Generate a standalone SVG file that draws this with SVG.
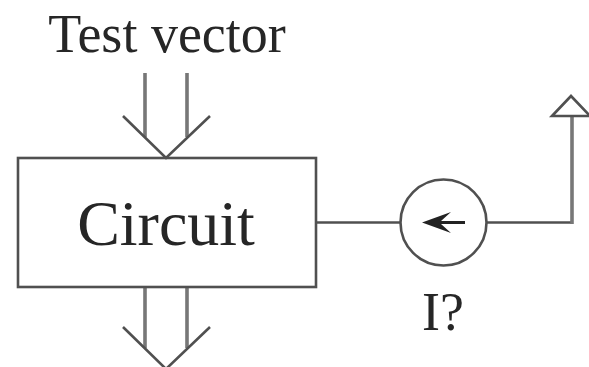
<svg xmlns="http://www.w3.org/2000/svg" width="589" height="367" viewBox="0 0 589 367">
<style>
.l{fill:none;stroke:#505050;stroke-width:2.6}
.v{fill:none;stroke:#777;stroke-width:3.6}
text{font-family:"Liberation Serif","Times New Roman",serif;fill:#262626}
</style>
<rect width="589" height="367" fill="#fff"/>
<g id="connectors">
<path class="v" d="M145 73V137M187 73V137"/>
<path class="l" d="M123 116L166 158L210 116"/>
<path class="v" d="M145 288V348M187 288V348"/>
<path class="l" d="M123 327L166 369L210 327"/>
<path class="l" d="M316 222.5H401"/>
<path class="l" d="M487 222.5H572"/>
<path class="v" d="M572 224V116"/>
<path class="l" d="M552 116L571 96L590 116Z"/>
</g>
<g id="circuit"><rect class="l" x="18" y="158" width="298" height="129"/>
<text x="166" y="245" font-size="64" text-anchor="middle">Circuit</text></g>
<g id="ammeter"><circle class="l" cx="443.5" cy="222.5" r="43"/>
<path d="M422 222.5L451 212L441 221H465V224H441L451 233Z" fill="#222"/></g>
<text id="test" x="167" y="52" font-size="54" text-anchor="middle">Test vector</text>
<text id="iq" x="443" y="330" font-size="54" text-anchor="middle">I?</text>
</svg>
